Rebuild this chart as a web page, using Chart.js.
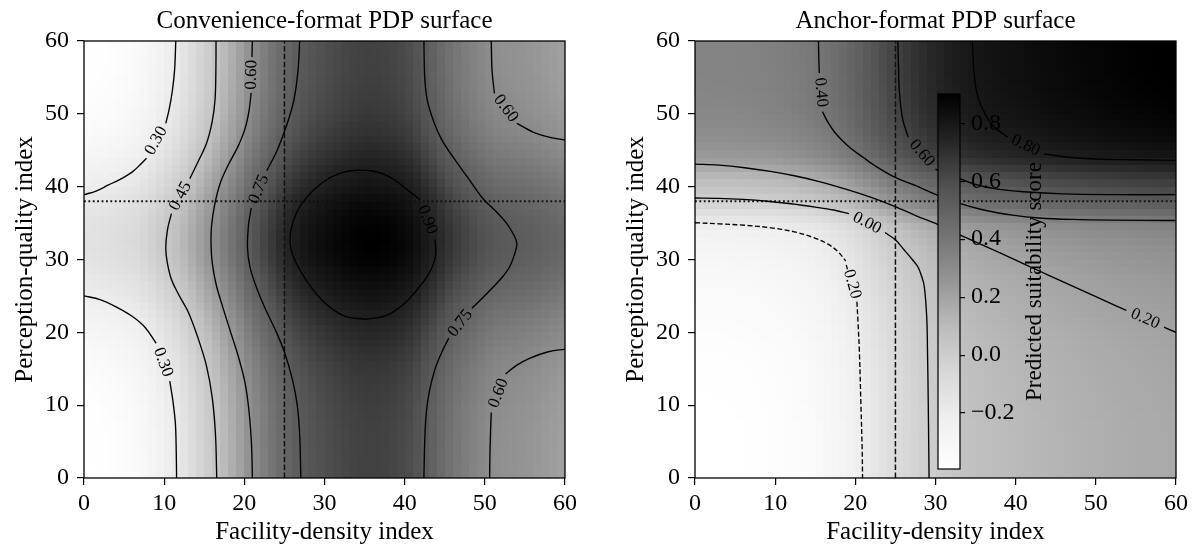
<!DOCTYPE html>
<html>
<head>
<meta charset="utf-8">
<script src="https://cdn.jsdelivr.net/npm/chart.js@4.4.1/dist/chart.umd.min.js"></script>
<style>
  html, body { margin: 0; padding: 0; background: #fff; }
  #wrap { position: relative; width: 1192px; height: 550px; overflow: hidden; }
  #wrap canvas { position: absolute; top: 0; }
</style>
</head>
<body>
<div id="wrap">
  <canvas id="convChart" width="596" height="550" style="left:0px"></canvas>
  <canvas id="anchorChart" width="581" height="550" style="left:611px"></canvas>
  <canvas id="colorbar" width="240" height="550" style="left:900px"></canvas>
</div>
<script>
// PDP surfaces: convenience vs anchor format
const FONT = "'Liberation Serif', 'Times New Roman', serif";

const tickValues = [0, 10, 20, 30, 40, 50, 60];
const refX = 25;   // dashed vertical reference
const refY = 38;   // dotted horizontal reference

// grid cell centres (same on both axes)
const cellCenters = [0.5, 1.5, 2.5, 3.5, 4.5, 5.5, 6.5, 7.5, 8.5, 9.5,
                     10.5, 11.5, 12.5, 13.5, 14.5, 15.5, 16.5, 17.5, 18.5, 19.5,
                     20.5, 21.5, 22.5, 23.5, 24.5, 25.5, 26.5, 27.5, 28.5, 29.5,
                     30.5, 31.5, 32.5, 33.5, 34.5, 35.5, 36.5, 37.5, 38.5, 39.5,
                     40.5, 41.5, 42.5, 43.5, 44.5, 45.5, 46.5, 47.5, 48.5, 49.5,
                     50.5, 51.5, 52.5, 53.5, 54.5, 55.5, 56.5, 57.5, 58.5, 59.5];

// convenience surface: column (facility) and row (perception) effects
const convColEffect = [0.176, 0.179, 0.183, 0.188, 0.194, 0.202, 0.211, 0.225, 0.243, 0.263,
                       0.283, 0.302, 0.33, 0.36, 0.39, 0.42, 0.45, 0.483, 0.515, 0.547,
                       0.585, 0.615, 0.643, 0.671, 0.698, 0.722, 0.742, 0.757, 0.769, 0.779,
                       0.788, 0.796, 0.803, 0.809, 0.813, 0.815, 0.814, 0.811, 0.806, 0.799,
                       0.789, 0.772, 0.75, 0.73, 0.705, 0.683, 0.664, 0.648, 0.633, 0.619,
                       0.606, 0.597, 0.592, 0.588, 0.584, 0.579, 0.573, 0.566, 0.559, 0.552];
const convRowEffect = [0.001, 0.001, 0.002, 0.002, 0.003, 0.003, 0.004, 0.005, 0.007, 0.008,
                       0.011, 0.013, 0.017, 0.02, 0.025, 0.03, 0.036, 0.042, 0.05, 0.058,
                       0.066, 0.075, 0.086, 0.097, 0.108, 0.118, 0.128, 0.138, 0.147, 0.155,
                       0.16, 0.164, 0.165, 0.163, 0.16, 0.155, 0.148, 0.14, 0.13, 0.118,
                       0.107, 0.096, 0.085, 0.074, 0.063, 0.053, 0.044, 0.036, 0.03, 0.024,
                       0.019, 0.015, 0.012, 0.009, 0.007, 0.005, 0.004, 0.003, 0.002, 0.002];

// anchor surface
const anchorColEffect = [-0.393, -0.393, -0.392, -0.392, -0.391, -0.389, -0.387, -0.384, -0.38, -0.376,
                         -0.371, -0.365, -0.357, -0.348, -0.337, -0.324, -0.309, -0.291, -0.27, -0.246,
                         -0.22, -0.192, -0.163, -0.135, -0.108, -0.083, -0.06, -0.038, -0.018, 0.002,
                         0.02, 0.036, 0.05, 0.061, 0.071, 0.079, 0.086, 0.092, 0.097, 0.102,
                         0.107, 0.112, 0.117, 0.122, 0.127, 0.131, 0.135, 0.139, 0.143, 0.147,
                         0.151, 0.154, 0.157, 0.16, 0.163, 0.166, 0.168, 0.171, 0.173, 0.175];
const anchorRowEffect = [0, 0, 0, 0, 0, 0, 0.001, 0.001, 0.002, 0.003,
                         0.004, 0.005, 0.007, 0.008, 0.01, 0.012, 0.015, 0.018, 0.021, 0.025,
                         0.029, 0.034, 0.039, 0.044, 0.05, 0.056, 0.063, 0.071, 0.079, 0.088,
                         0.098, 0.11, 0.124, 0.142, 0.172, 0.222, 0.28, 0.338, 0.39, 0.432,
                         0.472, 0.514, 0.56, 0.605, 0.64, 0.66, 0.676, 0.69, 0.702, 0.71,
                         0.716, 0.72, 0.723, 0.725, 0.727, 0.728, 0.729, 0.73, 0.73, 0.73];
const anchorRange = [-0.393, 0.901];
const colorbarTicks = [-0.2, 0, 0.2, 0.4, 0.6, 0.8];

// contour lines, null = where the inline label sits
const convContours = [
  { level: 0.30, pts: [[0, 38.9], [1.5, 39.4], [3, 40.2], [4.5, 41.0], [6, 42.0], [7, 43.0], [7.8, 43.9], null,
                       [10.2, 48.7], [10.6, 50.5], [11.0, 53], [11.3, 56], [11.45, 60]] },
  { level: 0.30, pts: [[0, 25.0], [2, 24.5], [4, 23.5], [6, 22.2], [7.6, 20.7], [9.0, 18.5], null,
                       [10.7, 13.3], [11.1, 10.5], [11.4, 7.5], [11.5, 4], [11.55, 0]] },
  { level: 0.45, pts: [[16.47, 60], [16.45, 56], [16.35, 52], [16.0, 49], [15.3, 46], [14.3, 43.6], [13.2, 41.1], null,
                       [10.9, 36.3], [10.4, 34], [10.2, 31.5], [10.4, 29.5], [10.9, 27.3], [11.8, 25.2],
                       [13.0, 22.8], [14.2, 19.3], [15.3, 15.3], [16.0, 11], [16.4, 6], [16.56, 0]] },
  { level: 0.60, pts: [[21.0, 60], [20.95, 57.8], null,
                       [20.85, 52.9], [20.6, 50.5], [20.1, 48], [19.2, 45.5], [18.0, 43], [17.0, 40.5],
                       [16.3, 37.5], [15.9, 34.5], [15.85, 32], [16.0, 29.5], [16.5, 26.5], [17.3, 23.5],
                       [18.3, 20], [19.3, 16.5], [20.1, 13], [20.6, 9], [20.9, 4.5], [21.0, 0]] },
  { level: 0.75, pts: [[26.9, 60], [26.7, 56], [26.2, 52], [25.3, 48.5], [24.1, 45], [22.8, 42.2], null,
                       [20.86, 37.1], [20.5, 34.5], [20.4, 31.5], [20.7, 29], [21.4, 26.5], [22.5, 23.5],
                       [23.8, 20.5], [25.0, 17.3], [26.0, 13.5], [26.6, 10], [26.9, 6], [27.05, 0]] },
  { level: 0.90, pts: [[35.0, 21.8], [32.6, 22.2], [30.5, 23.6], [28.6, 25.8], [26.8, 28.8], [25.8, 31.5],
                       [25.8, 34.0], [26.6, 36.6], [28.0, 38.8], [29.8, 40.6], [31.8, 41.8], [34.0, 42.25],
                       [36.0, 42.15], [38.0, 41.4], [40.2, 39.7], [41.9, 38.2], null,
                       [43.8, 32.7], [43.85, 30.5], [43.1, 28.2], [41.8, 26.2], [40.0, 24.0], [37.7, 22.3], [35.0, 21.8]] },
  { level: 0.75, pts: [[42.4, 60], [42.5, 55], [42.8, 52], [43.6, 49], [44.6, 46.5], [46.2, 43.8], [47.9, 41.2],
                       [49.8, 38.3], [51.4, 36.6], [52.7, 35.0], [53.6, 33.4], [54.0, 32.2], [53.7, 30.7],
                       [53.1, 29.0], [52.2, 27.6], [51.1, 26.3], [49.6, 24.6], [48.4, 23.3], null,
                       [45.5, 19.2], [44.6, 17.2], [43.8, 15.0], [43.1, 12], [42.7, 9], [42.5, 5], [42.4, 0]] },
  { level: 0.60, pts: [[50.8, 60], [50.9, 56], [51.2, 52.8], null,
                       [54.0, 48.7], [56.0, 47.5], [58, 46.8], [60, 46.4]] },
  { level: 0.60, pts: [[50.6, 0], [50.65, 4], [50.8, 9.0], null,
                       [52.6, 14.3], [54, 15.5], [55.5, 16.4], [57.8, 17.3], [60, 17.7]] }
];

const anchorContours = [
  { level: -0.20, pts: [[0, 35.05], [3, 34.9], [6.2, 34.7], [9.5, 34.35], [12.4, 33.8], [14.8, 33.0], [16.6, 32.1],
                        [17.9, 31.0], [18.8, 29.8], null,
                        [20.2, 24.2], [20.35, 21], [20.5, 17.6], [20.7, 10], [20.85, 4], [20.9, 0]] },
  { level: 0.00, pts: [[0, 38.45], [3, 38.4], [6, 38.25], [9, 38.0], [12, 37.65], [15, 37.2], [17.3, 36.8], [19.2, 36.3], null,
                       [23.7, 33.7], [25, 32.7], [26.1, 31.3], [27.1, 30.0], [27.8, 29.0], [28.3, 27.6], [28.6, 26.3],
                       [28.9, 22.2], [29.0, 17.6], [29.1, 10], [29.2, 0]] },
  { level: 0.20, pts: [[0, 43.1], [3, 42.95], [6.2, 42.6], [9.4, 42.1], [12.4, 41.5], [15.5, 40.7], [18.7, 39.7],
                       [21.8, 38.6], [24.9, 37.3], [27.6, 36.0], [30.3, 34.8], [32.6, 33.6], [37.5, 31.2],
                       [42, 28.9], [46, 26.9], [50, 24.9], [53.8, 23.0], null,
                       [58.5, 20.7], [60, 20.0]] },
  { level: 0.40, pts: [[15.4, 60], [15.45, 57.5], [15.5, 55.6], null,
                       [15.9, 50.3], [16.5, 49.0], [17.4, 47.5], [18.5, 46.2], [19.5, 45.2], [21, 44.0], [22.4, 42.9],
                       [24.9, 41.3], [27.4, 40.2], [30.3, 38.8], [33.0, 37.7], [36, 36.8], [39.6, 36.1], [43, 35.7],
                       [47, 35.5], [52, 35.4], [60, 35.35]] },
  { level: 0.60, pts: [[25.3, 60], [25.4, 56], [25.5, 53.0], [25.9, 49.3], [26.6, 46.8], null,
                       [30.0, 42.4], [31.5, 41.6], [33.0, 41.1], [35, 40.3], [37.55, 39.7], [41, 39.3],
                       [45.85, 39.0], [52, 38.9], [60, 38.9]] },
  { level: 0.80, pts: [[34.6, 60], [34.7, 57.5], [34.85, 55.2], [35.1, 53.2], [35.5, 51.6], [36.2, 50.0],
                       [37.1, 48.4], [39.0, 46.8], null,
                       [43.5, 44.5], [47, 44.0], [50, 43.8], [55, 43.7], [60, 43.6]] }
];

// matplotlib "Greys"
const greysStops = ['#ffffff', '#f0f0f0', '#d9d9d9', '#bdbdbd', '#969696', '#737373', '#525252', '#252525', '#000000'];

function greys(t) {
    t = Math.min(1, Math.max(0, t));
    const pos = t * (greysStops.length - 1);
    const i = Math.min(greysStops.length - 2, Math.floor(pos));
    const f = pos - i;
    const a = parseInt(greysStops[i].slice(1, 3), 16);
    const b = parseInt(greysStops[i + 1].slice(1, 3), 16);
    const g = Math.round(a + (b - a) * f);
    return `rgb(${g},${g},${g})`;
}

function cellEdges(centers) {
    const e = [centers[0] - (centers[1] - centers[0]) / 2];
    for (let i = 1; i < centers.length; i++) e.push((centers[i - 1] + centers[i]) / 2);
    e.push(centers[centers.length - 1] + (centers[centers.length - 1] - centers[centers.length - 2]) / 2);
    return e;
}

function heatmapPlugin(colEffect, rowEffect, range) {
    return {
        id: 'heatmap',
        beforeDatasetsDraw(chart) {
            const { ctx, chartArea, scales: { x, y } } = chart;
            const edges = cellEdges(cellCenters);
            let vmin = range ? range[0] : Infinity, vmax = range ? range[1] : -Infinity;
            if (!range) {
                colEffect.forEach(c => rowEffect.forEach(r => {
                    vmin = Math.min(vmin, c + r); vmax = Math.max(vmax, c + r);
                }));
            }
            ctx.save();
            ctx.beginPath();
            ctx.rect(chartArea.left, chartArea.top, chartArea.width, chartArea.height);
            ctx.clip();
            for (let i = 0; i < colEffect.length; i++) {
                const x0 = Math.round(x.getPixelForValue(edges[i]));
                const x1 = Math.round(x.getPixelForValue(edges[i + 1]));
                for (let j = 0; j < rowEffect.length; j++) {
                    const y0 = Math.round(y.getPixelForValue(edges[j + 1]));
                    const y1 = Math.round(y.getPixelForValue(edges[j]));
                    ctx.fillStyle = greys((colEffect[i] + rowEffect[j] - vmin) / (vmax - vmin));
                    ctx.fillRect(x0, y0, x1 - x0, y1 - y0);
                }
            }
            ctx.restore();
        }
    };
}

function contourLabelPlugin(contours) {
    return {
        id: 'contourLabels',
        afterDatasetsDraw(chart) {
            const { ctx, scales: { x, y } } = chart;
            contours.forEach(c => {
                const k = c.pts.indexOf(null);
                if (k < 1) return;
                const a = c.pts[k - 1], b = c.pts[k + 1];
                const ax = x.getPixelForValue(a[0]), ay = y.getPixelForValue(a[1]);
                const bx = x.getPixelForValue(b[0]), by = y.getPixelForValue(b[1]);
                let ang = Math.atan2(by - ay, bx - ax);
                if (ang > Math.PI / 2) ang -= Math.PI;
                if (ang <= -Math.PI / 2) ang += Math.PI;
                ctx.save();
                ctx.translate((ax + bx) / 2, (ay + by) / 2);
                ctx.rotate(ang);
                ctx.font = `17px ${FONT}`;
                ctx.fillStyle = '#000';
                ctx.textAlign = 'center';
                ctx.textBaseline = 'middle';
                ctx.fillText(c.level.toFixed(2), 0, 0);
                ctx.restore();
            });
        }
    };
}

function framePlugin(title) {
    return {
        id: 'frame',
        afterDraw(chart) {
            const { ctx, chartArea } = chart;
            ctx.save();
            ctx.strokeStyle = '#000';
            ctx.lineWidth = 1.3;
            ctx.strokeRect(chartArea.left, chartArea.top, chartArea.width, chartArea.height);
            ctx.font = `25px ${FONT}`;
            ctx.fillStyle = '#000';
            ctx.textAlign = 'center';
            ctx.textBaseline = 'alphabetic';
            ctx.fillText(title, (chartArea.left + chartArea.right) / 2, 28);
            ctx.restore();
        }
    };
}

function buildDatasets(contours) {
    const sets = [];
    contours.forEach(c => {
        let seg = [];
        const flush = () => {
            if (seg.length > 1) {
                sets.push({
                    data: seg.map(p => ({ x: p[0], y: p[1] })),
                    showLine: true,
                    borderColor: '#000',
                    borderWidth: 1.35,
                    borderDash: c.level < 0 ? [5, 2.5] : [],
                    pointRadius: 0,
                    tension: 0.35
                });
            }
            seg = [];
        };
        c.pts.forEach(p => { if (p === null) flush(); else seg.push(p); });
        flush();
    });
    sets.push({
        data: [{ x: refX, y: tickValues[0] }, { x: refX, y: tickValues[tickValues.length - 1] }],
        showLine: true, borderColor: '#111', borderWidth: 1.5, borderDash: [5.5, 2.4], pointRadius: 0
    });
    sets.push({
        data: [{ x: tickValues[0], y: refY }, { x: tickValues[tickValues.length - 1], y: refY }],
        showLine: true, borderColor: '#111', borderWidth: 1.8, borderDash: [1.8, 2.6], pointRadius: 0
    });
    return sets;
}

function axisOptions(title, isX) {
    return {
        type: 'linear',
        min: tickValues[0],
        max: tickValues[tickValues.length - 1],
        afterBuildTicks: s => { s.ticks = tickValues.map(v => ({ value: v })); },
        ticks: { color: '#000', font: { family: FONT, size: 24 }, padding: isX ? 4 : 8, maxRotation: 0, autoSkip: false },
        grid: { drawOnChartArea: false, drawTicks: true, tickLength: 7, color: '#000', lineWidth: 1.2 },
        border: { display: false },
        title: { display: true, text: title, color: '#000', font: { family: FONT, size: 25 },
                 padding: isX ? { top: 0, bottom: 3 } : { top: 10, bottom: 0 } },
        afterFit: s => { if (isX) s.height = 72; else s.width = 84; }
    };
}

function makePanel(canvasId, title, colEffect, rowEffect, range, contours, rightPad) {
    return new Chart(document.getElementById(canvasId), {
        type: 'scatter',
        data: { datasets: buildDatasets(contours) },
        options: {
            animation: false,
            responsive: false,
            devicePixelRatio: 1,
            layout: { padding: { top: 41, right: rightPad, bottom: 0, left: 0 } },
            plugins: { legend: { display: false }, tooltip: { enabled: false }, title: { display: false } },
            scales: {
                x: axisOptions('Facility-density index', true),
                y: axisOptions('Perception-quality index', false)
            }
        },
        plugins: [heatmapPlugin(colEffect, rowEffect, range), contourLabelPlugin(contours), framePlugin(title)]
    });
}

makePanel('convChart', 'Convenience-format PDP surface', convColEffect, convRowEffect, null, convContours, 31);
makePanel('anchorChart', 'Anchor-format PDP surface', anchorColEffect, anchorRowEffect, anchorRange, anchorContours, 15);

// colorbar drawn as its own small chart on top of the anchor panel
const colorbarPlugin = {
    id: 'colorbarFill',
    beforeDraw(chart) {
        const { ctx, chartArea, scales: { y } } = chart;
        const y0 = y.getPixelForValue(anchorRange[0]);
        const y1 = y.getPixelForValue(anchorRange[1]);
        const grad = ctx.createLinearGradient(0, y0, 0, y1);
        greysStops.forEach((c, i) => grad.addColorStop(i / (greysStops.length - 1), c));
        ctx.save();
        ctx.fillStyle = grad;
        ctx.fillRect(chartArea.left, chartArea.top, chartArea.width, chartArea.height);
        ctx.strokeStyle = '#000';
        ctx.lineWidth = 1.2;
        ctx.strokeRect(chartArea.left, chartArea.top, chartArea.width, chartArea.height);
        ctx.restore();
    },
    afterDraw(chart) {
        const { ctx, chartArea } = chart;
        ctx.save();
        ctx.translate(135, (chartArea.top + chartArea.bottom) / 2);
        ctx.rotate(-Math.PI / 2);
        ctx.font = `23px ${FONT}`;
        ctx.fillStyle = '#000';
        ctx.textAlign = 'center';
        ctx.textBaseline = 'middle';
        ctx.fillText('Predicted suitability score', 0, 0);
        ctx.restore();
    }
};

new Chart(document.getElementById('colorbar'), {
    type: 'scatter',
    data: { datasets: [] },
    options: {
        animation: false,
        responsive: false,
        devicePixelRatio: 1,
        layout: { padding: { top: 94, right: 0, bottom: 81, left: 38 } },
        plugins: { legend: { display: false }, tooltip: { enabled: false } },
        scales: {
            x: { display: false, min: 0, max: 1 },
            y: {
                type: 'linear',
                position: 'right',
                min: anchorRange[0],
                max: anchorRange[1],
                afterBuildTicks: s => { s.ticks = colorbarTicks.map(v => ({ value: v })); },
                ticks: {
                    color: '#000', font: { family: FONT, size: 24 }, padding: 6,
                    callback: v => v.toFixed(1).replace('-', '\u2212')
                },
                grid: { drawOnChartArea: false, tickLength: 5, color: '#000', lineWidth: 1.2 },
                border: { display: false },
                afterFit: s => { s.width = 180; }
            }
        }
    },
    plugins: [colorbarPlugin]
});
</script>
</body>
</html>
